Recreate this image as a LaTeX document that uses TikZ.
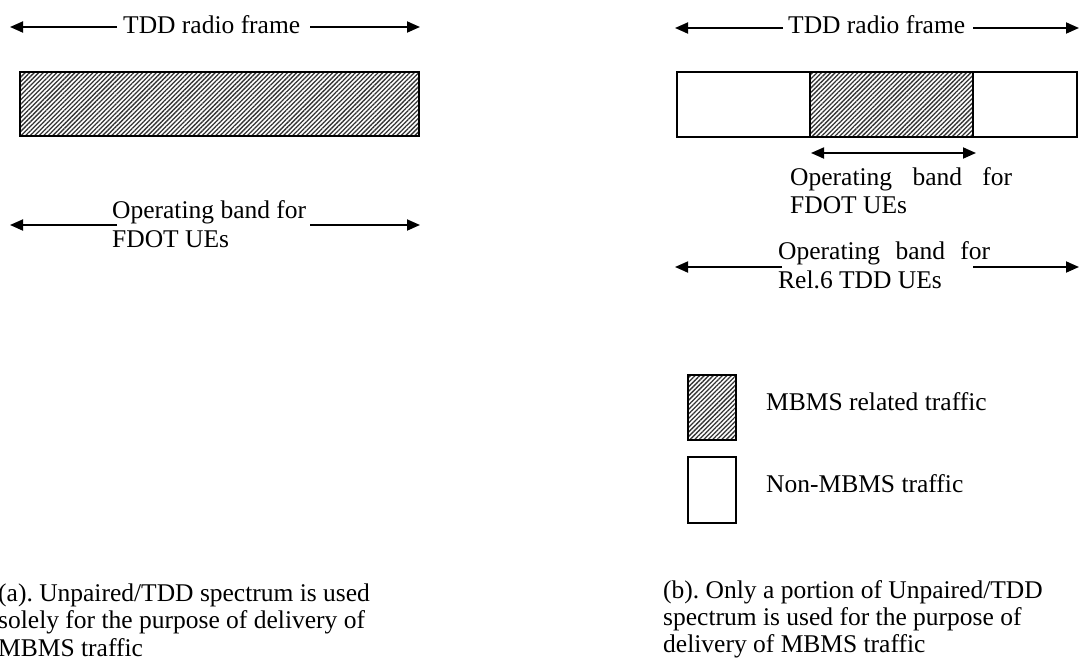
\documentclass[tikz,border=0pt]{standalone}
\usepackage{fontspec}
\setmainfont{Liberation Serif}
\usetikzlibrary{arrows.meta,patterns.meta}
\frenchspacing
\begin{document}
\begin{tikzpicture}[x=1pt,y=-1pt,
  txt/.style={anchor=base west,inner sep=0pt,font=\fontsize{25.5}{27.5}\selectfont},
  arr/.style={line width=1.8pt,-{Triangle[length=13pt,width=11pt]}},
  darr/.style={line width=1.8pt,{Triangle[length=13pt,width=11pt]}-{Triangle[length=13pt,width=11pt]}},
  plainbox/.style={draw=black,line width=1.6pt,fill=white},
  hatchbox/.style={draw=black,line width=1.6pt,pattern={Lines[angle=45,distance=3.2pt,line width=1.3pt]},pattern color=black!80}]
\useasboundingbox (0,0) rectangle (1080,659);
\fill[white] (0,0) rectangle (1080,659);

% ---------- left panel (a) ----------
\node[txt] (tfa) at (123,33) {TDD radio frame};
\coordinate (tfaL1) at (117,27); \coordinate (tfaL2) at (10,27);
\coordinate (tfaR1) at (310,27); \coordinate (tfaR2) at (420,27);
\draw[arr] (tfaL1) -- (tfaL2);
\draw[arr] (tfaR1) -- (tfaR2);

\draw[hatchbox] (20,72) rectangle (419,136);

\node[txt] (opa1) at (112,218.5) {Operating band for};
\node[txt] (opa2) at (112,247.5) {FDOT UEs};
\coordinate (opaL1) at (117,225); \coordinate (opaL2) at (10,225);
\coordinate (opaR1) at (310,225); \coordinate (opaR2) at (420,225);
\draw[arr] (opaL1) -- (opaL2);
\draw[arr] (opaR1) -- (opaR2);

\node[txt] (capa1) at (-2,601) {(a). Unpaired/TDD spectrum is used};
\node[txt] (capa2) at (-2,628.5) {solely for the purpose of delivery of};
\node[txt] (capa3) at (-2,656) {MBMS traffic};

% ---------- right panel (b) ----------
\node[txt] (tfb) at (788,33) {TDD radio frame};
\coordinate (tfbL1) at (783,28); \coordinate (tfbL2) at (675,28);
\coordinate (tfbR1) at (973,28); \coordinate (tfbR2) at (1079,28);
\draw[arr] (tfbL1) -- (tfbL2);
\draw[arr] (tfbR1) -- (tfbR2);

\draw[plainbox] (677,72) rectangle (1077,137);
\draw[hatchbox] (810,72) rectangle (973,137);

\coordinate (fdL) at (811,153); \coordinate (fdR) at (976,153);
\draw[darr] (fdL) -- (fdR);
\node[txt] (opb1) at (790,185) {\makebox[222pt][s]{Operating\hfill band\hfill for}};
\node[txt] (opb2) at (790,213) {FDOT UEs};

\node[txt] (opc1) at (778,259) {\makebox[212pt][s]{Operating\hfill band\hfill for}};
\node[txt] (opc2) at (778,288) {Rel.6 TDD UEs};
\coordinate (opcL1) at (782,267); \coordinate (opcL2) at (675,267);
\coordinate (opcR1) at (973,267); \coordinate (opcR2) at (1079,267);
\draw[arr] (opcL1) -- (opcL2);
\draw[arr] (opcR1) -- (opcR2);

% legend
\draw[hatchbox] (688,375) rectangle (736,440);
\node[txt] (lg1) at (766,410) {MBMS related traffic};
\draw[plainbox] (688,457) rectangle (736,523);
\node[txt] (lg2) at (766,492) {Non-MBMS traffic};

\node[txt] (capb1) at (663,598) {(b). Only a portion of Unpaired/TDD};
\node[txt] (capb2) at (663,625) {spectrum is used for the purpose of};
\node[txt] (capb3) at (663,652) {delivery of MBMS traffic};
\end{tikzpicture}
\end{document}
